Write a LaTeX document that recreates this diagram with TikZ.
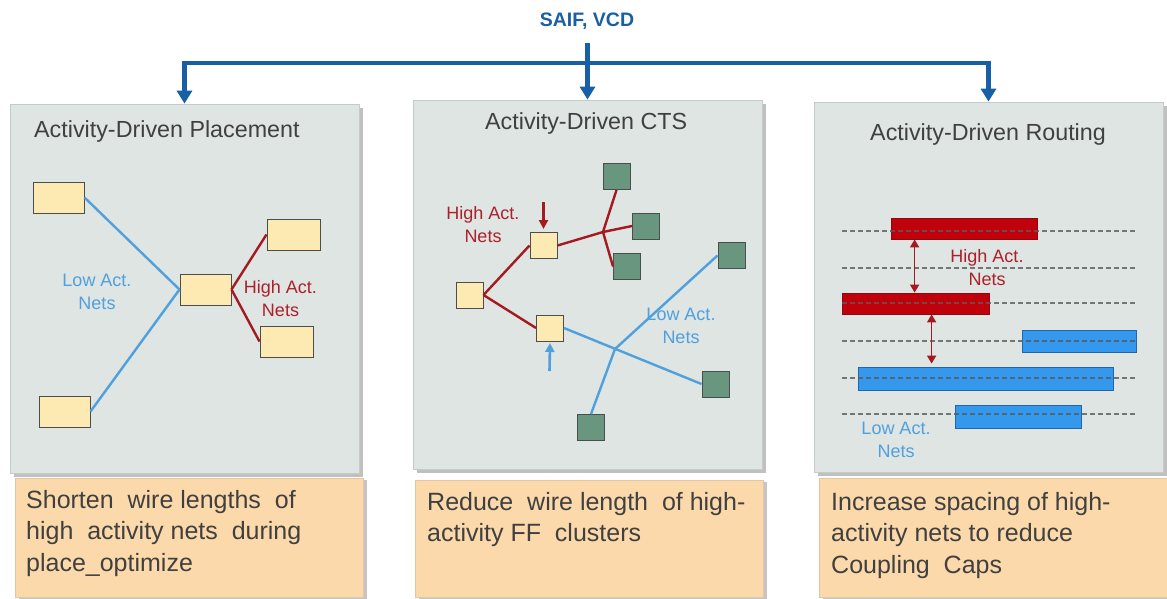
\documentclass[tikz,border=0pt]{standalone}
\usepackage{fontspec}
\setmainfont{Liberation Sans}
\usetikzlibrary{arrows.meta,calc,shadows}
\definecolor{panelfill}{RGB}{222,229,227}
\definecolor{paneldraw}{RGB}{196,204,202}
\definecolor{orfill}{RGB}{252,217,170}
\definecolor{ordraw}{RGB}{225,200,165}
\definecolor{busblue}{RGB}{25,95,165}
\definecolor{netblue}{RGB}{80,160,222}
\definecolor{netred}{RGB}{165,25,32}
\definecolor{labred}{RGB}{172,32,42}
\definecolor{yelfill}{RGB}{253,234,178}
\definecolor{grnfill}{RGB}{104,150,126}
\definecolor{boxdraw}{RGB}{75,78,76}
\definecolor{barred}{RGB}{192,0,10}
\definecolor{barreddraw}{RGB}{140,10,15}
\definecolor{barblue}{RGB}{52,152,236}
\definecolor{barbluedraw}{RGB}{35,100,170}
\definecolor{dashc}{RGB}{90,90,90}
\definecolor{txtgray}{RGB}{64,64,64}
\begin{document}
\begin{tikzpicture}[x=1pt,y=-1pt,
  panel/.style={draw=paneldraw,line width=0.8pt,fill=panelfill,inner sep=0pt,
    drop shadow={shadow xshift=3.5pt,shadow yshift=-3.5pt,fill=black!45,opacity=0.55}},
  orbox/.style={draw=ordraw,line width=0.8pt,fill=orfill,inner sep=0pt,
    drop shadow={shadow xshift=3.5pt,shadow yshift=-2pt,fill=black!45,opacity=0.5}},
  ptitle/.style={font=\fontsize{23.3}{28}\selectfont,text=txtgray,inner sep=0pt,anchor=base west},
  ortext/.style={font=\fontsize{25}{31.5}\selectfont,text=txtgray,inner sep=0pt,anchor=north west,align=left},
  ybox/.style={draw=boxdraw,line width=1pt,fill=yelfill,inner sep=0pt},
  gbox/.style={draw=boxdraw,line width=1pt,fill=grnfill,inner sep=0pt,minimum width=27pt,minimum height=26pt},
  ysq/.style={ybox,minimum width=27pt,minimum height=26pt},
  bnet/.style={draw=netblue,line width=2.4pt},
  rnet/.style={draw=netred,line width=2.4pt},
  blab/.style={font=\fontsize{18}{23}\selectfont,text=netblue,align=center,inner sep=0pt,anchor=north},
  rlab/.style={font=\fontsize{18}{23}\selectfont,text=labred,align=center,inner sep=0pt,anchor=north},
  bus/.style={draw=busblue,line width=4.5pt},
  busarrow/.style={bus,-{Triangle[length=13pt,width=15pt]}},
  rbar/.style={draw=barreddraw,line width=0.8pt,fill=barred,inner sep=0pt},
  bbar/.style={draw=barbluedraw,line width=0.8pt,fill=barblue,inner sep=0pt},
  track/.style={draw=dashc,line width=1.2pt,dash pattern=on 5pt off 3pt,opacity=0.8},
  dblred/.style={draw=netred,line width=1.6pt,{Triangle[length=8pt,width=9pt]}-{Triangle[length=8pt,width=9pt]}}
]
\useasboundingbox (0,0) rectangle (1167,598);

% panels
\node[panel,minimum width=349pt,minimum height=369pt] (p1) at (184.5,288.5) {};
\node[panel,minimum width=349pt,minimum height=369pt] (p2) at (587.5,284.5) {};
\node[panel,minimum width=349pt,minimum height=370pt] (p3) at (988.5,287) {};
\node[orbox,minimum width=348pt,minimum height=119pt] (o1) at (189,537.5) {};
\node[orbox,minimum width=348pt,minimum height=117pt] (o2) at (589,538.5) {};
\node[orbox,minimum width=349pt,minimum height=119pt] (o3) at (993.5,537.5) {};

% source and bus
\node[font=\bfseries\fontsize{19.5}{22}\selectfont,text=busblue,inner sep=0pt] (saif) at (587,21) {SAIF, VCD};
\coordinate (src) at (587.5,43);
\coordinate (busmid) at (587.5,63);
\draw[busarrow] (src) -- (p2.north);
\draw[busarrow] (busmid) -| (p1.north);
\draw[busarrow] (busmid) -| (p3.north);

% titles
\node[ptitle] (t1) at (34,137.5) {Activity-Driven Placement};
\node[ptitle] (t2) at (485,129) {Activity-Driven CTS};
\node[ptitle] (t3) at (870,140) {Activity-Driven Routing};

% panel 1
\node[ybox,minimum width=51pt,minimum height=31pt] (a1) at (58.5,197.5) {};
\node[ybox,minimum width=53pt,minimum height=31pt] (b1) at (293.5,234.5) {};
\node[ybox,minimum width=51pt,minimum height=31pt] (c1) at (205.5,289.5) {};
\node[ybox,minimum width=53pt,minimum height=31pt] (d1) at (286.5,341.5) {};
\node[ybox,minimum width=51pt,minimum height=31pt] (e1) at (64.5,411.5) {};
\draw[bnet] (a1.east) -- (c1.west);
\draw[bnet] (e1.east) -- (c1.west);
\draw[rnet] (c1.east) -- (b1.west);
\draw[rnet] (c1.east) -- (d1.west);
\node[blab] (l1) at (97,273.5) {Low Act.\\Nets};
\node[rlab] (h1) at (280.5,280.5) {High Act.\\Nets};

% panel 2
\node[gbox] (g1) at (616.5,176.5) {};
\node[gbox] (g2) at (646,226) {};
\node[gbox] (g3) at (627,266.5) {};
\node[gbox] (g4) at (731.5,255.5) {};
\node[gbox] (g5) at (715.5,384) {};
\node[gbox] (g6) at (591,427.5) {};
\node[ysq] (y1) at (543.5,245.5) {};
\node[ysq] (y0) at (469.5,295) {};
\node[ysq] (y2) at (550,328) {};
\coordinate (j1) at (603,232);
\coordinate (j2) at (615,349);
\draw[rnet] (y0.east) -- (y1.west);
\draw[rnet] (y0.east) -- (y2.west);
\draw[rnet] (y1.east) -- (j1);
\draw[rnet] (j1) -- (g1.south);
\draw[rnet] (j1) -- (g2.west);
\draw[rnet] (j1) -- (g3.west);
\draw[bnet] (y2.east) -- (g5.west);
\draw[bnet] (g6.north) -- (j2) -- (g4.west);
\coordinate (ra) at (543.5,202);
\draw[draw=netred,line width=2.2pt,-{Triangle[length=9pt,width=9pt]}] (ra) -- ([yshift=3pt]y1.north);
\coordinate (ba) at (549.5,371);
\draw[draw=netblue,line width=2.6pt,-{Triangle[length=9pt,width=9pt]}] (ba) -- ([yshift=-1.5pt]y2.south);
\node[rlab] (h2) at (483,206) {High Act.\\Nets};
\node[blab] (l2) at (681,307.5) {Low Act.\\Nets};

% panel 3
\node[rbar,minimum width=146pt,minimum height=21pt] (r1) at (964,228.5) {};
\node[rbar,minimum width=147pt,minimum height=21pt] (r2) at (915.5,303.5) {};
\node[bbar,minimum width=114pt,minimum height=22pt] (bb1) at (1079,341) {};
\node[bbar,minimum width=255pt,minimum height=23pt] (bb2) at (985.5,378.5) {};
\node[bbar,minimum width=126pt,minimum height=23pt] (bb3) at (1018,416.5) {};
\foreach \yy in {231,268,303,341,378,414} {\draw[track] (842,\yy) -- (1135,\yy);}
\draw[dblred] ([xshift=24pt]r1.south west) -- ([xshift=24pt]r1.south west |- r2.north);
\draw[dblred] ([xshift=90pt]r2.south west) -- ([xshift=90pt,yshift=3pt]r2.south west |- bb2.north);
\node[rlab] (h3) at (987,249) {High Act.\\Nets};
\node[blab] (l3) at (896,422) {Low Act.\\Nets};

% descriptions
\node[ortext] (d1t) at (26,490) {Shorten\ \ wire\ lengths\ \ of\\high\ \ activity nets\ \ during\\place\_optimize};
\node[ortext] (d2t) at (427,492) {Reduce\ \ wire length\ \ of high-\\activity FF\ \ clusters};
\node[ortext] (d3t) at (831,492) {Increase spacing of high-\\activity nets to reduce\\Coupling\ \ Caps};
\end{tikzpicture}
\end{document}
